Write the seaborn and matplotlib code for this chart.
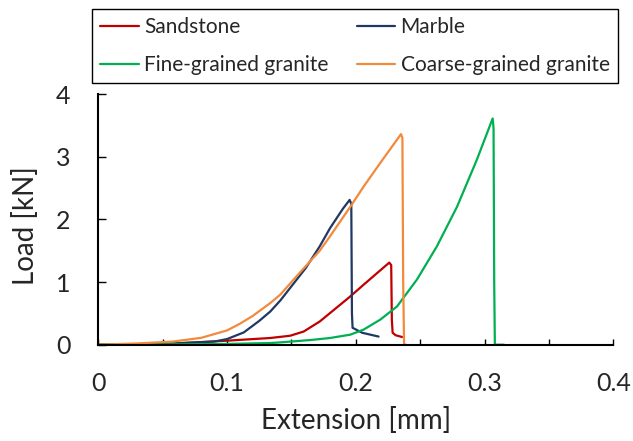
import numpy as np
import pandas as pd
import matplotlib
matplotlib.use("Agg")
import matplotlib.pyplot as plt
from matplotlib.lines import Line2D
from matplotlib.ticker import MultipleLocator
import seaborn as sns

# Load–extension curves for each rock type (extension in mm, load in kN)
sandstone_x = [0.0, 0.05, 0.10, 0.1336, 0.149, 0.1595, 0.172, 0.180, 0.1957, 0.206,
               0.226, 0.2275, 0.228, 0.2286, 0.231, 0.2359]
sandstone_y = [0.0, 0.01, 0.064, 0.107, 0.143, 0.21, 0.37, 0.505, 0.77, 0.956,
               1.31, 1.27, 0.40, 0.19, 0.15, 0.123]

marble_x = [0.0, 0.05, 0.09, 0.10, 0.113, 0.125, 0.1336, 0.1414, 0.161, 0.172, 0.180,
            0.190, 0.1952, 0.1965, 0.197, 0.1975, 0.205, 0.2177]
marble_y = [0.0, 0.01, 0.05, 0.09, 0.196, 0.38, 0.53, 0.706, 1.22, 1.57, 1.86,
            2.17, 2.31, 2.25, 0.50, 0.27, 0.19, 0.13]

fine_x = [0.0, 0.05, 0.10, 0.134, 0.1414, 0.165, 0.180, 0.1957, 0.206, 0.219, 0.232,
          0.2475, 0.263, 0.2786, 0.294, 0.3063, 0.3070, 0.3075, 0.308, 0.315]
fine_y = [0.0, 0.004, 0.012, 0.027, 0.037, 0.075, 0.107, 0.16, 0.24, 0.40, 0.61,
          1.04, 1.57, 2.20, 2.95, 3.61, 3.45, 1.0, 0.0, 0.0]

coarse_x = [0.0, 0.03, 0.058, 0.08, 0.10, 0.11, 0.12, 0.1336, 0.1414, 0.157, 0.172,
            0.180, 0.1957, 0.206, 0.219, 0.2351, 0.2362, 0.2368, 0.2375, 0.239]
coarse_y = [0.0, 0.02, 0.05, 0.11, 0.228, 0.335, 0.46, 0.665, 0.80, 1.16, 1.50,
            1.73, 2.20, 2.52, 2.90, 3.36, 3.30, 1.0, 0.0, 0.0]

series_names = ["Sandstone", "Marble", "Fine-grained granite", "Coarse-grained granite"]
series_colors = ["#C00000", "#203864", "#00B050", "#F28A3C"]

x_ticks = [0.0, 0.1, 0.2, 0.3, 0.4]
x_tick_labels = ["0", "0.1", "0.2", "0.3", "0.4"]
y_ticks = [0, 1, 2, 3, 4]
y_tick_labels = ["0", "1", "2", "3", "4"]

frames = []
for name, xs, ys in zip(series_names,
                        [sandstone_x, marble_x, fine_x, coarse_x],
                        [sandstone_y, marble_y, fine_y, coarse_y]):
    frames.append(pd.DataFrame({"Extension": xs, "Load": ys, "Rock": name,
                                "order": np.arange(len(xs))}))
df = pd.concat(frames, ignore_index=True)

sns.set_style("ticks")
plt.rcParams["font.family"] = ["Lato", "DejaVu Sans"]

fig = plt.figure(figsize=(6.33, 4.41), dpi=100)
ax = fig.add_axes([98.3 / 633, 1 - 344.7 / 441, (613.3 - 98.3) / 633, (344.7 - 94) / 441])

palette = dict(zip(series_names, series_colors))
sns.lineplot(data=df, x="Extension", y="Load", hue="Rock", hue_order=series_names,
             palette=palette, sort=False, estimator=None, units="Rock",
             linewidth=1.6, legend=False, ax=ax)

ax.set_xlim(0, 0.4)
ax.set_ylim(0, 4)
ax.set_xticks(x_ticks)
ax.set_xticklabels(x_tick_labels)
ax.set_yticks(y_ticks)
ax.set_yticklabels(y_tick_labels)
ax.xaxis.set_minor_locator(MultipleLocator(0.05))

for side in ["top", "right"]:
    ax.spines[side].set_visible(False)
for side in ["left", "bottom"]:
    ax.spines[side].set_color("black")
    ax.spines[side].set_linewidth(1.5)

ax.tick_params(axis="x", which="both", direction="in", length=4.5, width=1.0,
               color="black", labelsize=18, pad=20)
ax.tick_params(axis="y", which="major", direction="in", length=6, width=1.0,
               color="black", labelsize=18, pad=20)
ax.tick_params(axis="y", which="minor", left=False)

ax.set_xlabel("Extension [mm]", fontsize=20)
ax.xaxis.label.set_verticalalignment("baseline")
ax.xaxis.set_label_coords(0.5, (344.7 - 429.3) / 250.7)
ax.set_ylabel("Load [kN]", fontsize=20)
ax.yaxis.label.set_verticalalignment("center")
ax.yaxis.set_label_coords((25 - 98.3) / 515, (344.7 - 225.7) / 250.7)

# Legend entries read row by row: matplotlib fills columns first, so interleave
legend_order = [0, 2, 1, 3]
handles = [Line2D([], [], color=series_colors[i], lw=1.6) for i in legend_order]
labels = [series_names[i] for i in legend_order]
leg = fig.legend(handles, labels, ncol=2, loc="upper left",
                 bbox_to_anchor=(92.3 / 633, 1 - 80 / 441, (617.5 - 92.3) / 633, 70.7 / 441),
                 mode="expand", fontsize=15, frameon=True, fancybox=False,
                 handlelength=1.85, handletextpad=0.25, labelspacing=0.85,
                 borderpad=0.38, borderaxespad=0.0, columnspacing=1.0)
leg.get_frame().set_edgecolor("black")
leg.get_frame().set_linewidth(1.0)
leg.get_frame().set_alpha(1.0)

fig.savefig("out.png", dpi=100, facecolor="white")
